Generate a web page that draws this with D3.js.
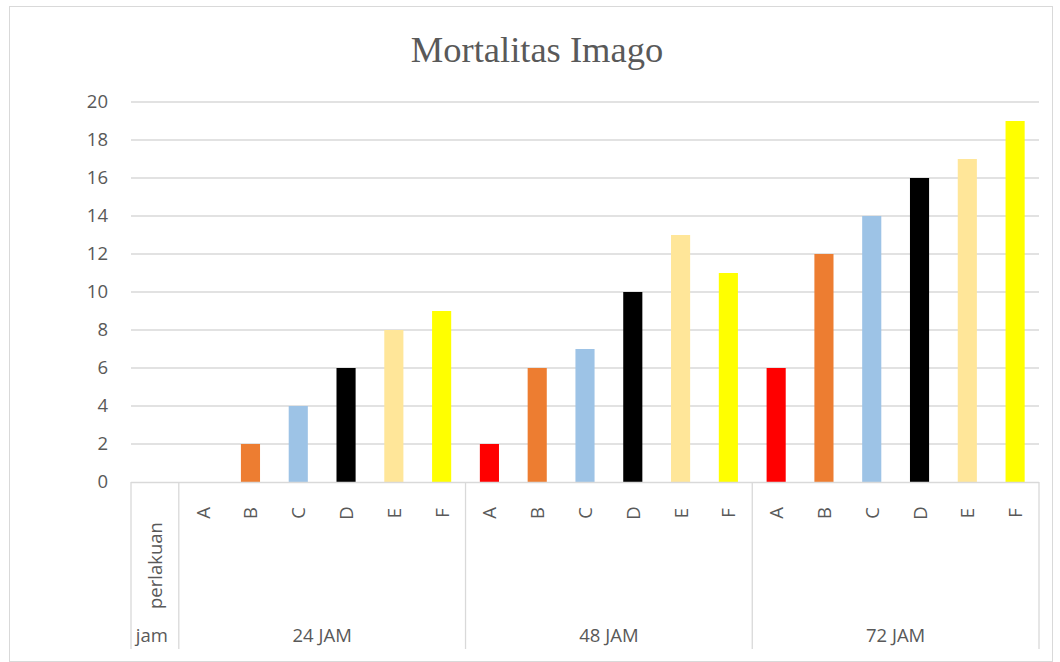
<!DOCTYPE html>
<html><head><meta charset="utf-8">
<script src="https://cdn.jsdelivr.net/npm/d3@7"></script>
<style>body{margin:0;background:#fff}svg{display:block}</style>
</head><body>
<svg id="c" width="1060" height="662"></svg>
<script>
const groups = ["24 JAM", "48 JAM", "72 JAM"];
const treatments = ["A", "B", "C", "D", "E", "F"];
const colors = ["#FF0000", "#ED7D31", "#9DC3E6", "#000000", "#FFE699", "#FFFF00"];
const values24 = [0, 2, 4, 6, 8, 9];
const values48 = [2, 6, 7, 10, 13, 11];
const values72 = [6, 12, 14, 16, 17, 19];
const yTicks = [0, 2, 4, 6, 8, 10, 12, 14, 16, 18, 20];
const title = "Mortalitas Imago";
const headerTop = "perlakuan";
const headerBottom = "jam";

(function () {
const series = [values24, values48, values72];
const rows = [];
groups.forEach((g, gi) => treatments.forEach((t, ti) => rows.push({key: g + "|" + t, group: g, t, ti, v: series[gi][ti]})));
const keys = ["header"].concat(rows.map(r => r.key));

const svg = d3.select("#c");
const pLeft = 131, pRight = 1039, pTop = 102, zeroY = 482, pBottom = 649;
const x = d3.scaleBand().domain(keys).range([pLeft, pRight]).paddingInner(0).paddingOuter(0);
const y = d3.scaleLinear().domain([0, 20]).range([zeroY, pTop]);
const grey = "#D9D9D9", txt = "#595959";
const font = "'Open Sans', 'Liberation Sans', sans-serif";
const fs = 18.5;

svg.append("rect").attr("x", 9.5).attr("y", 6.5).attr("width", 1043).attr("height", 655).attr("fill", "none").attr("stroke", grey).attr("stroke-width", 1);

svg.append("text").attr("x", 537).attr("y", 62).attr("text-anchor", "middle")
  .attr("font-family", "'Liberation Serif', 'Times New Roman', serif").attr("font-size", 36.5).attr("fill", txt).text(title);

svg.append("g").selectAll("line").data(yTicks.filter(d => d > 0)).join("line")
  .attr("x1", pLeft).attr("x2", pRight).attr("y1", d => y(d)).attr("y2", d => y(d))
  .attr("stroke", grey).attr("stroke-width", 1.3);

const yAxis = d3.axisLeft(y).tickValues(yTicks).tickSize(0).tickPadding(0);
const ya = svg.append("g").attr("transform", `translate(${pLeft - 23},0)`).call(yAxis);
ya.select(".domain").remove();
ya.selectAll("text").attr("font-family", font).attr("font-size", fs).attr("fill", txt);

const bw = x.bandwidth() / 2.5;
svg.append("g").selectAll("rect").data(rows).join("rect")
  .attr("x", d => x(d.key) + (x.bandwidth() - bw) / 2).attr("width", bw)
  .attr("y", d => y(d.v)).attr("height", d => y(0) - y(d.v))
  .attr("fill", d => colors[d.ti]);

svg.append("line").attr("x1", pLeft).attr("x2", pRight).attr("y1", zeroY + 0.5).attr("y2", zeroY + 0.5).attr("stroke", grey).attr("stroke-width", 1.3);

const seps = [pLeft, x(rows[0].key)].concat(groups.map((g, gi) => x(rows[gi * 6 + 5].key) + x.bandwidth()));
svg.append("g").selectAll("line").data(seps).join("line")
  .attr("x1", d => d).attr("x2", d => d).attr("y1", zeroY).attr("y2", pBottom)
  .attr("stroke", grey).attr("stroke-width", 1.3);

svg.append("g").selectAll("text").data(rows).join("text")
  .attr("transform", d => `translate(${x(d.key) + x.bandwidth() / 2 + 7},${513}) rotate(-90)`)
  .attr("text-anchor", "middle").attr("font-family", font).attr("font-size", fs).attr("fill", txt)
  .text(d => d.t);

svg.append("text").attr("transform", `translate(${x("header") + x.bandwidth() / 2 + 7},${609}) rotate(-90)`)
  .attr("text-anchor", "start").attr("font-family", font).attr("font-size", fs).attr("fill", txt).text(headerTop);
svg.append("text").attr("x", x("header") + x.bandwidth() / 2 - 3).attr("y", 642).attr("text-anchor", "middle")
  .attr("font-family", font).attr("font-size", fs).attr("fill", txt).text(headerBottom);

svg.append("g").selectAll("text").data(groups).join("text")
  .attr("x", (g, gi) => (x(rows[gi * 6].key) + x(rows[gi * 6 + 5].key) + x.bandwidth()) / 2)
  .attr("y", 642).attr("text-anchor", "middle").attr("font-family", font).attr("font-size", fs).attr("fill", txt)
  .text(d => d);
})();
</script>
</body></html>
